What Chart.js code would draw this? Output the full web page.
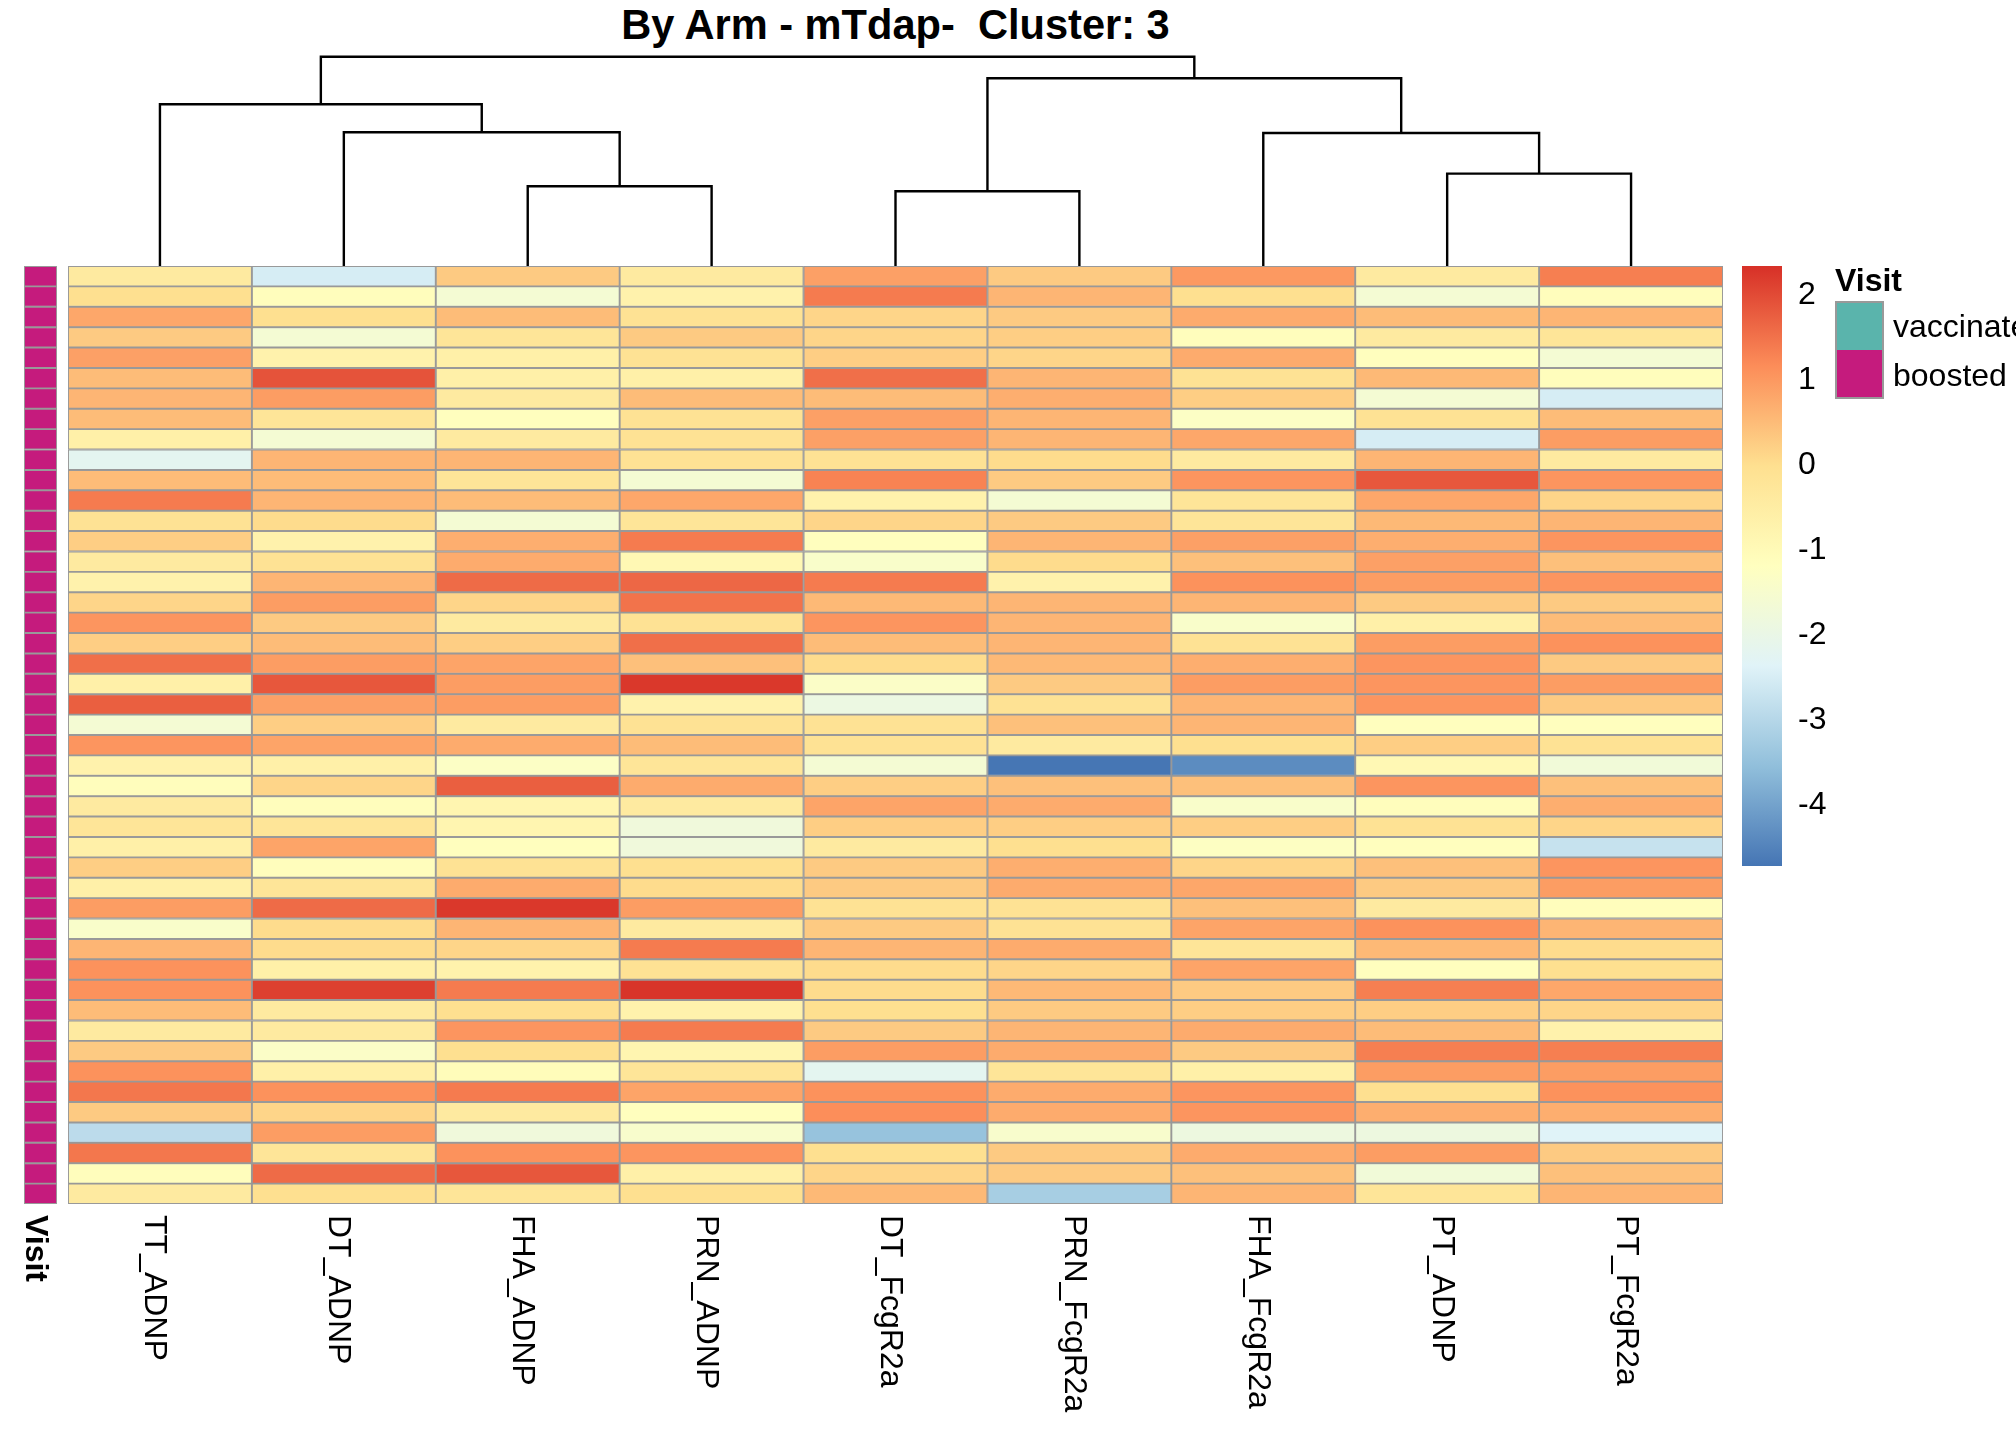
<!DOCTYPE html>
<html>
<head>
<meta charset="utf-8">
<script src="https://cdn.jsdelivr.net/npm/chart.js@4.4.0/dist/chart.umd.min.js"></script>
<style>
  html, body { margin:0; padding:0; background:#fff; width:2016px; height:1440px; overflow:hidden; }
  .box { position:absolute; }
  #title { position:absolute; left:68px; width:1655px; top:1px; text-align:center;
           font:bold 41.6px "Liberation Sans", Arial, sans-serif; white-space:pre; line-height:48px; color:#000; }
  #legTitle { position:absolute; left:1835px; top:262px; font:bold 32px "Liberation Sans", Arial, sans-serif; line-height:36px; color:#000; }
  #legKeys { position:absolute; left:1835px; top:301px; width:49px; height:98px; box-sizing:border-box; border:2px solid #999; }
  #legKeys div { width:100%; height:50%; }
  .legLab { position:absolute; left:1893px; font:32px "Liberation Sans", Arial, sans-serif; line-height:36px; color:#000; white-space:nowrap; }
</style>
</head>
<body>
<div id="title">By Arm - mTdap-  Cluster: 3</div>
<div class="box" style="left:68px;top:50px;width:1655px;height:216px"><canvas id="dendro"></canvas></div>
<div class="box" style="left:68px;top:266px;width:1655px;height:1174px"><canvas id="heat"></canvas></div>
<div class="box" style="left:24px;top:266px;width:33px;height:1174px"><canvas id="visit"></canvas></div>
<div class="box" style="left:1742px;top:266px;width:120px;height:600px"><canvas id="cbar"></canvas></div>
<div id="legTitle">Visit</div>
<div id="legKeys"></div>
<script>
// ---------------- data ----------------
const columns = ['TT_ADNP','DT_ADNP','FHA_ADNP','PRN_ADNP','DT_FcgR2a','PRN_FcgR2a','FHA_FcgR2a','PT_ADNP','PT_FcgR2a'];

const TT_ADNP = [-0.4, 0, 0.8, 0.3, 0.9, 0.5, 0.6, 0.5, -0.6, -2.2,
  0.5, 1.4, -0.1, 0.25, -0.4, -0.7, 0.15, 1.05, 0.25, 1.55,
  -0.6, 1.75, -1.6, 1.05, -0.7, -1.1, -0.4, -0.2, -0.6, 0.25,
  -0.6, 0.95, -1.4, 0.6, 1.1, 1.1, 0.5, -0.4, 0.3, 1.1,
  1.45, 0.3, -2.9, 1.45, -1.1, -0.4];
const DT_ADNP = [-2.5, -1.1, 0, -1.6, -0.7, 1.9, 0.95, -0.2, -1.6, 0.6,
  0.5, 0.6, 0.05, -0.7, -0.1, 0.6, 0.95, 0.3, 0.5, 0.95,
  1.85, 0.9, 0.25, 0.85, -0.6, 0.15, -1.1, -0.2, 0.85, -1.1,
  -0.2, 1.6, 0.05, 0.05, -0.6, 2.15, -0.4, -0.4, -1.35, -0.6,
  1.1, 0.15, 0.95, -0.2, 1.6, 0];
const FHA_ADNP = [0.3, -1.6, 0.5, -0.2, -0.6, -0.6, -0.4, -1.15, -0.4, 0.6,
  -0.2, 0.5, -1.6, 0.7, 0.75, 1.6, 0.15, -0.4, 0.25, 0.85,
  0.95, 0.95, -0.4, 0.75, -1.3, 1.75, -0.8, -0.8, -1.15, -0.1,
  0.75, 2.25, 0.6, 0.15, -0.7, 1.4, 0, 1.05, 0, -1.05,
  1.4, -0.4, -1.75, 1.1, 1.85, -0.2];
const PRN_ADNP = [-0.4, -0.7, -0.1, 0.3, -0.1, -0.6, 0.5, -0.1, -0.1, -0.1,
  -1.6, 0.8, -0.2, 1.4, -0.9, 1.65, 1.5, -0.1, 1.55, 0.45,
  2.25, -0.7, -0.1, 0.5, -0.2, 0.75, -0.4, -1.75, -1.75, 0,
  0.05, 0.95, -0.4, 1.4, -0.1, 2.3, -0.7, 1.4, -0.8, -0.2,
  0.85, -1.15, -1.45, 1.05, -0.6, 0];
const DT_FcgR2a = [0.9, 1.4, 0.15, 0.15, 0.25, 1.55, 0.5, 0.9, 0.9, -0.1,
  1.3, -0.7, 0.15, -1.15, -1.4, 1.4, 0.55, 1.05, 0.5, 0.05,
  -1.35, -1.9, -0.1, -0.1, -1.6, 0.25, 0.85, 0.25, -0.4, 0.3,
  0.3, -0.1, 0.3, 0.6, 0.05, 0.05, 0, 0.3, 0.95, -2.2,
  1.1, 1.15, -3.45, 0, 0.15, 0.55];
const PRN_FcgR2a = [0.3, 0.6, 0.3, 0.25, 0.15, 0.6, 0.7, 0.6, 0.6, 0.05,
  0.3, -1.6, 0.3, 0.6, 0.05, -0.7, 0.6, 0.6, 0.6, 0.55,
  0.3, -0.1, 0.45, -0.4, -4.7, 0.45, 0.75, 0.25, 0, 0.7,
  0.75, -0.1, -0.1, 0.75, 0.15, 0.55, 0.3, 0.6, 0.75, -0.2,
  0.75, 0.75, -1.45, 0.3, 0.3, -3.2];
const FHA_FcgR2a = [1.0, 0, 0.75, -1.1, 0.75, -0.1, 0.25, -1.3, 0.8, -0.4,
  1.05, -0.2, -0.2, 0.9, 0.45, 1.1, 0.6, -1.4, -0.1, 0.7,
  0.95, 0.6, 0.6, 0, -4.35, 0.45, -1.4, 0.25, -1.25, 0.15,
  0.8, 0.45, 0.85, -0.2, 0.85, 0.3, 0.25, 0.75, 0.3, -0.6,
  1.05, 1.05, -1.85, 0.75, 0.45, 0.6];
const PT_ADNP = [-0.4, -1.6, 0.5, -0.4, -1.15, 0.55, -1.6, -0.1, -2.5, 0.6,
  1.85, 0.8, 0.55, 0.7, 0.9, 0.95, 0.3, -0.6, 0.95, 1.05,
  1.05, 1.05, -1.15, 0.25, -0.9, 1.05, -1.1, -0.1, -1.15, 0.45,
  0.3, -0.4, 1.1, 0.55, -1.15, 1.35, 0.25, 0.5, 1.35, 0.95,
  0, 0.7, -1.85, 0.95, -1.7, -0.2];
const PT_FcgR2a = [1.35, -1.1, 0.6, -0.2, -1.6, -1.1, -2.5, 0.5, 0.95, -0.4,
  1.05, 0.15, 0.6, 1.05, 0.45, 1.05, 0.3, 0.5, 1.1, 0.3,
  0.95, 0.3, -1.15, -0.1, -1.7, 0.45, 0.7, 0.15, -2.75, 1.05,
  0.95, -1.1, 0.6, 0.05, 0, 0.8, 0.15, -0.7, 1.35, 0.95,
  1.1, 0.7, -2.35, 0.3, 0.45, 0.6];

const columnValues = [TT_ADNP, DT_ADNP, FHA_ADNP, PRN_ADNP, DT_FcgR2a, PRN_FcgR2a, FHA_FcgR2a, PT_ADNP, PT_FcgR2a];

const visitLevels = ['vaccinated', 'boosted'];
const visitColors = ['#5AB4AC', '#C51B7D'];
const visitRows = ['boosted','boosted','boosted','boosted','boosted','boosted','boosted','boosted','boosted','boosted',
  'boosted','boosted','boosted','boosted','boosted','boosted','boosted','boosted','boosted','boosted',
  'boosted','boosted','boosted','boosted','boosted','boosted','boosted','boosted','boosted','boosted',
  'boosted','boosted','boosted','boosted','boosted','boosted','boosted','boosted','boosted','boosted',
  'boosted','boosted','boosted','boosted','boosted','boosted'];

// column dendrogram: negative = leaf (1-based, display order), positive = earlier merge (1-based)
const dendroMerges = [[-5,-6],[-3,-4],[-8,-9],[-7,3],[-2,2],[-1,5],[1,4],[6,7]];
const dendroHeights = [0.747, 0.797, 0.924, 1.33, 1.337, 1.617, 1.877, 2.093];

const colorbarTicks = [2, 1, 0, -1, -2, -3, -4];
const colorMin = -4.71, colorMax = 2.346;
const palette = ['#4575B4','#91BFDB','#E0F3F8','#FFFFBF','#FEE090','#FC8D59','#D73027'];

// ---------------- helpers ----------------
const FONT = '"Liberation Sans", Arial, sans-serif';
function hex2rgb(h){ return [parseInt(h.slice(1,3),16), parseInt(h.slice(3,5),16), parseInt(h.slice(5,7),16)]; }
const palRGB = palette.map(hex2rgb);
function valueToColor(v){
  let t = (v - colorMin) / (colorMax - colorMin);
  t = Math.max(0, Math.min(1, t)) * (palRGB.length - 1);
  const i = Math.min(palRGB.length - 2, Math.floor(t)), f = t - i;
  const a = palRGB[i], b = palRGB[i+1];
  return 'rgb(' + a.map((c,k)=>Math.round(c + (b[k]-c)*f)).join(',') + ')';
}
const rowIds = TT_ADNP.map((_, i) => 'S' + (i + 1));
Chart.defaults.font.family = FONT;
const CELL_BORDER = '#999999', CELL_BORDER_W = 1.3;

// ---------------- dendrogram ----------------
const nodeX = [], nodeH = [];
function childPos(id){ return id < 0 ? [(-id) - 0.5, 0] : [nodeX[id-1], nodeH[id-1]]; }
const dendroSets = dendroMerges.map((m, k) => {
  const [xa, ha] = childPos(m[0]);
  const [xb, hb] = childPos(m[1]);
  const h = dendroHeights[k];
  nodeX.push((xa + xb) / 2); nodeH.push(h);
  return { data:[{x:xa,y:ha},{x:xa,y:h},{x:xb,y:h},{x:xb,y:hb}], showLine:true, borderColor:'#000',
           borderWidth:2.4, pointRadius:0, fill:false, tension:0, clip:false };
});
new Chart(document.getElementById('dendro'), {
  type:'scatter',
  data:{ datasets: dendroSets },
  options:{ responsive:true, maintainAspectRatio:false, animation:false,
    layout:{ padding:0 },
    plugins:{ legend:{display:false}, tooltip:{enabled:false} },
    scales:{ x:{ type:'linear', min:0, max:columns.length, display:false },
             y:{ type:'linear', min:0, max:2.16, display:false } } }
});

// ---------------- heatmap ----------------
const colLabelPlugin = {
  id:'colLabels',
  afterDraw(chart){
    const {ctx, chartArea, scales:{x}} = chart;
    ctx.save();
    ctx.font = '32px ' + FONT; ctx.fillStyle = '#000';
    ctx.textAlign = 'left'; ctx.textBaseline = 'alphabetic';
    columns.forEach((lab, i) => {
      const px = x.getPixelForValue(i + 0.5);
      ctx.save(); ctx.translate(px - 14.5, chartArea.bottom + 11); ctx.rotate(Math.PI/2);
      ctx.fillText(lab, 0, 0); ctx.restore();
    });
    ctx.restore();
  }
};
new Chart(document.getElementById('heat'), {
  type:'bar',
  data:{ labels: rowIds,
    datasets: columns.map((name, c) => ({
      label:name,
      data: columnValues[c].map(() => [c, c + 1]),
      backgroundColor: columnValues[c].map(valueToColor),
      borderColor:CELL_BORDER, borderWidth:CELL_BORDER_W, borderSkipped:false,
      categoryPercentage:1, barPercentage:1, grouped:false
    })) },
  options:{ indexAxis:'y', responsive:true, maintainAspectRatio:false, animation:false,
    layout:{ padding:{ left:0, right:0, top:0, bottom:236 } },
    plugins:{ legend:{display:false}, tooltip:{enabled:false} },
    scales:{ x:{ type:'linear', min:0, max:columns.length, display:false },
             y:{ type:'category', display:false, offset:true } } },
  plugins:[colLabelPlugin]
});

// ---------------- Visit annotation column ----------------
const visitLabelPlugin = {
  id:'visitLabel',
  afterDraw(chart){
    const {ctx, chartArea, scales:{x}} = chart;
    ctx.save();
    ctx.font = 'bold 32px ' + FONT; ctx.fillStyle = '#000';
    ctx.textAlign = 'left'; ctx.textBaseline = 'alphabetic';
    ctx.translate(x.getPixelForValue(0.5) - 14.5, chartArea.bottom + 11); ctx.rotate(Math.PI/2);
    ctx.fillText('Visit', 0, 0);
    ctx.restore();
  }
};
new Chart(document.getElementById('visit'), {
  type:'bar',
  data:{ labels: rowIds,
    datasets:[{ label:'Visit', data: visitRows.map(() => [0, 1]),
      backgroundColor: visitRows.map(v => visitColors[visitLevels.indexOf(v)]),
      borderColor:CELL_BORDER, borderWidth:CELL_BORDER_W, borderSkipped:false,
      categoryPercentage:1, barPercentage:1 }] },
  options:{ indexAxis:'y', responsive:true, maintainAspectRatio:false, animation:false,
    layout:{ padding:{ left:0, right:0, top:0, bottom:236 } },
    plugins:{ legend:{display:false}, tooltip:{enabled:false} },
    scales:{ x:{ type:'linear', min:0, max:1, display:false },
             y:{ type:'category', display:false, offset:true } } },
  plugins:[visitLabelPlugin]
});

// ---------------- colour bar ----------------
new Chart(document.getElementById('cbar'), {
  type:'bar',
  data:{ labels:['scale'],
    datasets:[{ data:[[colorMin, colorMax]], borderWidth:0, categoryPercentage:1, barPercentage:1,
      backgroundColor:(c) => {
        const chart = c.chart, ys = chart.scales.y;
        if (!chart.chartArea || !ys) return palette[3];
        const g = chart.ctx.createLinearGradient(0, ys.getPixelForValue(colorMin), 0, ys.getPixelForValue(colorMax));
        palette.forEach((col, i) => g.addColorStop(i / (palette.length - 1), col));
        return g;
      } }] },
  options:{ responsive:true, maintainAspectRatio:false, animation:false,
    layout:{ padding:0 },
    plugins:{ legend:{display:false}, tooltip:{enabled:false} },
    scales:{ x:{ display:false },
      y:{ position:'right', min:colorMin, max:colorMax, bounds:'data',
          grid:{ display:false, drawTicks:false }, border:{ display:false },
          ticks:{ color:'#000', font:{ size:32, family:FONT }, padding:16 },
          afterBuildTicks:(s) => { s.ticks = colorbarTicks.map(v => ({ value:v })); },
          afterFit:(s) => { s.width = 80; s.paddingTop = 0; s.paddingBottom = 0; } } } }
});

// ---------------- Visit legend ----------------
const keys = document.getElementById('legKeys');
visitLevels.forEach((lev, i) => {
  const sw = document.createElement('div'); sw.style.background = visitColors[i]; keys.appendChild(sw);
  const lab = document.createElement('div'); lab.className = 'legLab'; lab.textContent = lev;
  lab.style.top = (308 + i * 49) + 'px'; document.body.appendChild(lab);
});
</script>
</body>
</html>
